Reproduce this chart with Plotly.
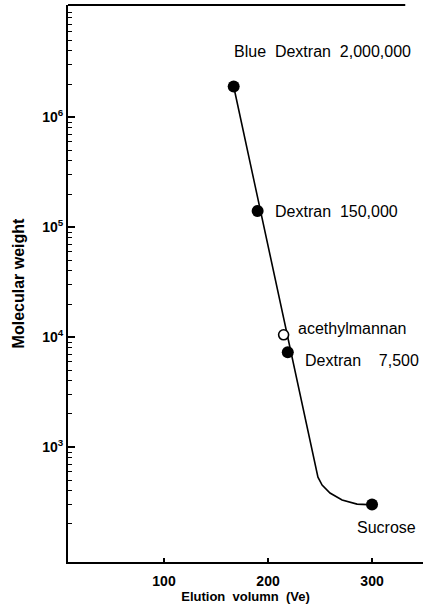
import numpy as np
import plotly.graph_objects as go

# Data
filled_x = [167, 190, 219, 300]
filled_y = [1.9e6, 1.4e5, 7.3e3, 300]
filled_labels = ["Blue\u00a0 Dextran\u00a0 2,000,000", "Dextran\u00a0 150,000",
                 "Dextran\u00a0 \u00a0 7,500", "Sucrose"]
open_x = [215]
open_y = [1.05e4]
open_labels = ["acethylmannan"]

# calibration curve drawn through the standards
curve_x = [167, 248, 252, 259.6, 271.2, 285.6, 296]
curve_y = [1.9e6, 533, 452, 382, 330, 303, 300]

y_tickvals = [1e3, 1e4, 1e5, 1e6]
y_ticktext = ["10<sup>3</sup>", "10<sup>4</sup>", "10<sup>5</sup>", "10<sup>6</sup>"]
x_tickvals = [100, 200, 300]

minor_y = [m * 10 ** e for e in range(2, 7) for m in range(2, 10)]

FONT = "Liberation Sans, Arial, Helvetica, sans-serif"

fig = go.Figure()
fig.add_trace(go.Scatter(x=curve_x, y=curve_y, mode="lines",
                         line=dict(color="black", width=1.6), hoverinfo="skip"))
fig.add_trace(go.Scatter(x=filled_x, y=filled_y, mode="markers",
                         marker=dict(color="black", size=12, line=dict(width=0))))
fig.add_trace(go.Scatter(x=open_x, y=open_y, mode="markers",
                         marker=dict(color="white", size=10,
                                     line=dict(color="black", width=1.6))))

shifts = [(-2, 35, "left"), (15, 0, "left"), (15, -8, "left"), (14, -23, "center")]
for x, y, t, (dx, dy, anc) in zip(filled_x, filled_y, filled_labels, shifts):
    fig.add_annotation(x=x, y=np.log10(y), text=t, showarrow=False,
                       xanchor=anc, yanchor="middle", xshift=dx, yshift=dy,
                       font=dict(size=16, color="black", family=FONT))
for x, y, t in zip(open_x, open_y, open_labels):
    fig.add_annotation(x=x, y=np.log10(y), text=t, showarrow=False,
                       xanchor="left", yanchor="middle", xshift=12, yshift=6,
                       font=dict(size=16, color="black", family=FONT))

# top border (does not reach the right edge)
fig.add_shape(type="line", xref="paper", yref="paper", x0=0, x1=0.95, y0=1, y1=1,
              line=dict(color="black", width=2))

fig.update_layout(
    width=423, height=609,
    margin=dict(l=68, r=0, t=5, b=47),
    paper_bgcolor="white", plot_bgcolor="white",
    showlegend=False,
    font=dict(family=FONT, color="black", size=14),
    xaxis=dict(range=[7.7, 349], tickvals=x_tickvals, ticks="inside", ticklen=4,
               tickwidth=1.5, tickcolor="black", showline=True, linecolor="black",
               linewidth=2, showgrid=False, zeroline=False, ticklabelstandoff=5,
               tickfont=dict(size=14, family=FONT, weight="bold"),
               title=dict(text="Elution\u00a0 volumn\u00a0 (Ve)", standoff=4,
                          font=dict(size=13, family=FONT, weight="bold"))),
    yaxis=dict(type="log", range=[1.955, 7.02], tickvals=y_tickvals,
               ticktext=y_ticktext, ticks="inside", ticklen=7, tickwidth=1.5,
               tickcolor="black", showline=True, linecolor="black", linewidth=2,
               showgrid=False, zeroline=False,
               tickfont=dict(size=14, family=FONT, weight="bold"),
               minor=dict(tickvals=minor_y, ticks="inside", ticklen=4,
                          tickwidth=1.2, tickcolor="black", showgrid=False),
               title=dict(text="Molecular weight", standoff=14,
                          font=dict(size=16, family=FONT, weight="bold"))),
)

fig.write_html("out.html")
